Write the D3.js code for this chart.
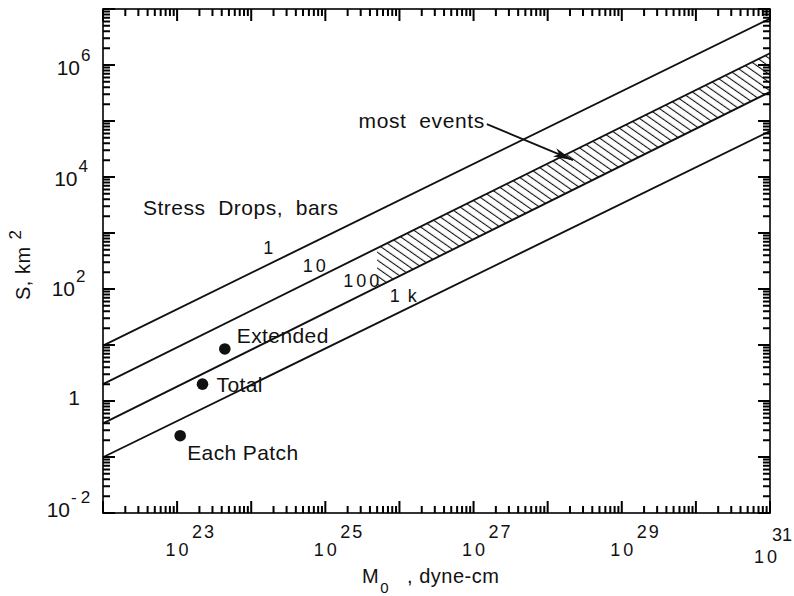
<!DOCTYPE html>
<html>
<head>
<meta charset="utf-8">
<script src="https://cdn.jsdelivr.net/npm/d3@7"></script>
<style>
    body { margin: 0; background: #fff; }
    svg text { font-family: 'Liberation Sans', Arial, Helvetica, sans-serif; fill: #111; }
</style>
</head>
<body>
<svg id="chart" width="794" height="596"></svg>
<script>
/** data */
var stressLabels = ["1", "10", "100", "1 k"];          // stress drops, bars
var lineM0 = [1e22, 1e31];                             // ends of each line, dyne-cm
var lineS = [
    [9.77, 6.76e6],
    [2.0, 1.62e6],
    [0.398, 3.31e5],
    [0.099, 6.6e4]
];
var eventNames = ["Extended", "Total", "Each Patch"];
var eventM0 = [4.4e23, 2.2e23, 1.1e23];
var eventS = [8.5, 2.0, 0.24];
var bandM0 = [5.0e25, 1e31];                           // most events (10 - 100 bars)
var arrowM0 = [1.51e27, 2.2e28];
var arrowS = [8.8e4, 2.0e4];
var xLabelExp = ["23", "25", "27", "29", "31"];
var yLabelExp = ["-2", "0", "2", "4", "6"];

var svg = d3.select("#chart");
var x = d3.scaleLog().domain([1e22, 1e31]).range([103, 770]);
var y = d3.scaleLog().domain([1e-2, 1e7]).range([513, 9]);

// ticks: decades + 2..9 in between
var majX = d3.range(22, 32).map(function (e) { return Math.pow(10, e); });
var majY = d3.range(-2, 8).map(function (e) { return Math.pow(10, e); });
function minors(lo, hi) {
    var t = [];
    for (var e = lo; e < hi; e++) {
        for (var k = 2; k <= 9; k++) t.push(k * Math.pow(10, e));
    }
    return t;
}
var minX = minors(22, 31), minY = minors(-2, 7);

// hatched band of most events
var defs = svg.append("defs");
var pat = defs.append("pattern").attr("id", "hatch")
    .attr("patternUnits", "userSpaceOnUse")
    .attr("width", 10).attr("height", 6.5)
    .attr("patternTransform", "rotate(35)");
pat.append("line").attr("x1", 0).attr("x2", 10).attr("y1", 3.2).attr("y2", 3.2)
    .attr("stroke", "#111").attr("stroke-width", 1.1);
defs.append("clipPath").attr("id", "bandclip").append("rect")
    .attr("x", x(bandM0[0])).attr("y", 0)
    .attr("width", x(bandM0[1]) - x(bandM0[0])).attr("height", 596);

var area = d3.area()
    .x(function (d, i) { return x(lineM0[i]); })
    .y0(function (d, i) { return y(lineS[2][i]); })
    .y1(function (d, i) { return y(lineS[1][i]); });
svg.append("path").datum(lineM0).attr("d", area)
    .attr("fill", "url(#hatch)").attr("clip-path", "url(#bandclip)");

// stress drop lines
var line = d3.line()
    .x(function (d, i) { return x(lineM0[i]); })
    .y(function (d) { return y(d); });
svg.selectAll("path.sd").data(lineS).enter().append("path")
    .attr("class", "sd").attr("d", line)
    .attr("fill", "none").attr("stroke", "#111").attr("stroke-width", 1.9);

// frame
svg.append("rect").attr("x", 103).attr("y", 9).attr("width", 667).attr("height", 504)
    .attr("fill", "none").attr("stroke", "#000").attr("stroke-width", 1.6);

/** inward ticks on all four sides, one path */
var tp = d3.path();
function xTicks(vals, len) {
    vals.forEach(function (d) {
        var px = x(d);
        tp.moveTo(px, 513); tp.lineTo(px, 513 - len);
        tp.moveTo(px, 9); tp.lineTo(px, 9 + len);
    });
}
function yTicks(vals, len) {
    vals.forEach(function (d) {
        var py = y(d);
        tp.moveTo(103, py); tp.lineTo(103 + len, py);
        tp.moveTo(770, py); tp.lineTo(770 - len, py);
    });
}
xTicks(majX, 12); xTicks(minX, 7);
yTicks(majY, 12); yTicks(minY, 7);
svg.append("path").attr("d", tp.toString())
    .attr("fill", "none").attr("stroke", "#000").attr("stroke-width", 2);

// line labels sit a little above each line
var labelAt = [1.78e24, 7.4e24, 3.2e25, 1.15e26];
var labelLift = [10, 7, 7.5, 8];
stressLabels.forEach(function (t, i) {
    var k = (Math.log10(labelAt[i]) - 22) / 9;
    var ls = Math.log10(lineS[i][0]) + k * (Math.log10(lineS[i][1]) - Math.log10(lineS[i][0]));
    svg.append("text").attr("x", x(labelAt[i])).attr("y", y(Math.pow(10, ls)) - labelLift[i])
        .attr("text-anchor", "middle").attr("font-size", 18)
        .attr("letter-spacing", i === 3 ? 1.5 : 3)
        .style("white-space", "pre").text(t);
});

svg.append("text").attr("x", 143).attr("y", 215).attr("font-size", 21)
    .attr("letter-spacing", 0.5).style("white-space", "pre").text("Stress  Drops,  bars");

// events
var dx = [12, 14, 7], dy = [-6, 8, 24];
svg.selectAll("circle.ev").data(eventNames).enter().append("circle")
    .attr("class", "ev")
    .attr("cx", function (d, i) { return x(eventM0[i]); })
    .attr("cy", function (d, i) { return y(eventS[i]); })
    .attr("r", 5.8).attr("fill", "#111");
svg.selectAll("text.ev").data(eventNames).enter().append("text")
    .attr("class", "ev")
    .attr("x", function (d, i) { return x(eventM0[i]) + dx[i]; })
    .attr("y", function (d, i) { return y(eventS[i]) + dy[i]; })
    .attr("font-size", 21).attr("letter-spacing", 0.4)
    .text(function (d) { return d; });

// most events arrow
var mk = defs.append("marker").attr("id", "arr")
    .attr("markerUnits", "userSpaceOnUse")
    .attr("viewBox", "0 0 20 9").attr("refX", 20).attr("refY", 4.5)
    .attr("markerWidth", 20).attr("markerHeight", 9).attr("orient", "auto");
mk.append("path").attr("d", "M0,0L20,4.5L0,9L5,4.5Z").attr("fill", "#111");
svg.append("line")
    .attr("x1", x(arrowM0[0])).attr("y1", y(arrowS[0]))
    .attr("x2", x(arrowM0[1])).attr("y2", y(arrowS[1]))
    .attr("stroke", "#111").attr("stroke-width", 1.7).attr("marker-end", "url(#arr)");
svg.append("text").attr("x", x(arrowM0[0]) - 2).attr("y", y(arrowS[0]) + 4)
    .attr("text-anchor", "end").attr("font-size", 21).attr("letter-spacing", 0.6)
    .style("white-space", "pre").text("most  events");

// x tick labels
xLabelExp.forEach(function (e, i) {
    var px = x(Math.pow(10, +e));
    var last = i === xLabelExp.length - 1;
    svg.append("text").attr("x", last ? px - 3 : px + 1.5).attr("y", last ? 563 : 556)
        .attr("text-anchor", "middle").attr("font-size", 18).attr("letter-spacing", 3).text("10");
    svg.append("text").attr("x", last ? 792 : px + 15).attr("y", last ? 541 : 538)
        .attr("text-anchor", last ? "end" : "start")
        .attr("font-size", 18).attr("letter-spacing", last ? 0 : 2).text(e);
});

// y tick labels
yLabelExp.forEach(function (e) {
    var v = +e, py = y(Math.pow(10, v));
    if (v === 0) {
        svg.append("text").attr("x", 80).attr("y", py + 4)
            .attr("text-anchor", "end").attr("font-size", 21).text("1");
        return;
    }
    var xe = 70 + (v + 2) * 1.25;
    var base = py + 4 + (v + 2) * 0.75;
    svg.append("text").attr("x", xe).attr("y", base)
        .attr("text-anchor", "end").attr("font-size", 21).text("10");
    svg.append("text").attr("x", xe + 1).attr("y", base - 14)
        .attr("font-size", 17).attr("letter-spacing", v < 0 ? 4 : 0).text(e);
});

// axis titles
var xt = svg.append("text").attr("x", 362).attr("y", 583).attr("font-size", 20)
    .attr("letter-spacing", 0.5).style("white-space", "pre");
xt.append("tspan").text("M");
xt.append("tspan").attr("dx", 1).attr("dy", 10).attr("font-size", 15).text("0");
xt.append("tspan").attr("dx", 18).attr("dy", -10).text(", dyne-cm");

var yt = svg.append("text").attr("transform", "translate(30,300) rotate(-90)")
    .attr("font-size", 20).attr("letter-spacing", 0.5);
yt.append("tspan").text("S, km");
yt.append("tspan").attr("dx", 7).attr("dy", -9).attr("font-size", 17).text("2");
</script>
</body>
</html>
